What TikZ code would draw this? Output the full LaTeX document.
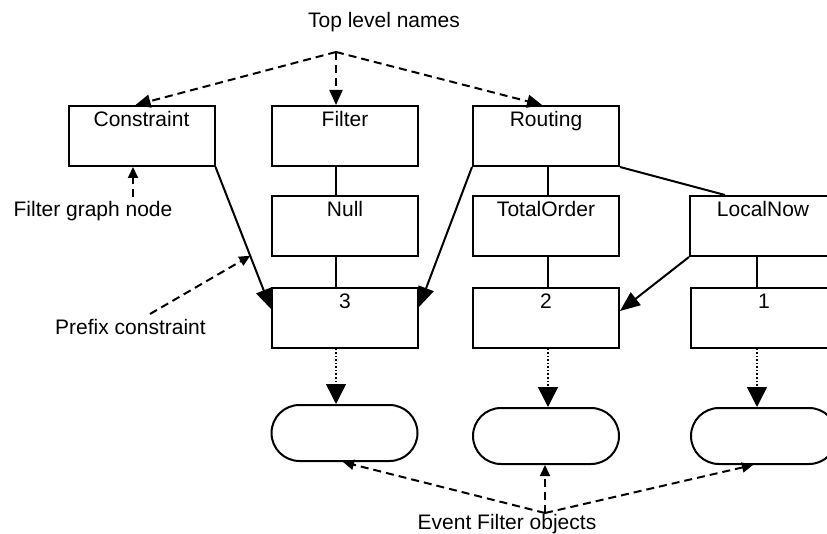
\documentclass[tikz,border=0pt]{standalone}
\usepackage{fontspec}
\setmainfont{Liberation Sans}
\usetikzlibrary{arrows.meta,calc}
\begin{document}
\begin{tikzpicture}[x=1pt,y=-1pt,
  every node/.style={font=\fontsize{21}{24}\selectfont},
  box/.style={draw,line width=2pt,minimum width=146pt,minimum height=60pt,inner sep=0pt},
  pill/.style={draw,line width=2pt,minimum width=146pt,minimum height=56pt,inner sep=0pt,rounded corners=28pt},
  txt/.style={inner sep=0pt,anchor=base},
  conn/.style={line width=2pt},
  solidarr/.style={conn,-{Triangle[length=20pt,width=16pt]}},
  dotarr/.style={line width=1.5pt,dash pattern=on 1.5pt off 2pt,-{Triangle[length=20pt,width=20pt]}},
  dasharr/.style={line width=2pt,dash pattern=on 8pt off 5pt,-{Triangle[length=15pt,width=13pt]}},
  smalldash/.style={line width=2pt,dash pattern=on 8pt off 5pt,-{Triangle[length=11pt,width=10pt]}},
  cap/.style={label={[txt,yshift=-21.5pt]north:#1}}
]
\clip (0,0) rectangle (827,534);
\fill[white] (0,0) rectangle (827,534);

% row 1
\node[box,cap=Constraint] (con) at (141.5,136) {};
\node[box,cap=Filter] (fil) at (345,136) {};
\node[box,cap=Routing] (rou) at (546,136) {};
% row 2
\node[box,cap=Null] (nul) at (345,226) {};
\node[box,cap=TotalOrder] (tot) at (546,226) {};
\node[box,cap=LocalNow] (loc) at (763,226) {};
% row 3
\node[box,cap=3] (b3) at (345,318) {};
\node[box,cap=2] (b2) at (546,318) {};
\node[box,cap=1] (b1) at (764,318) {};
% row 4
\node[pill] (e3) at (344.5,433) {};
\node[pill] (e2) at (546,436) {};
\node[pill] (e1) at (764,436) {};

% labels
\node[txt] (top) at (384,27.5) {Top level names};
\node[txt] (fgn) at (93,216.5) {Filter graph node};
\node[txt] (pre) at (130.5,334.5) {Prefix constraint};
\node[txt] (evt) at (507,529.5) {Event Filter objects};

\coordinate (hub) at (336,52);
\coordinate (hub2) at (545,513);
\coordinate (fgs) at (133,197);
\coordinate (pcs) at (150,314);

% top-level dashed arrows
\draw[dasharr] (hub) -- ($(con.north)+(-6,0)$);
\draw[dasharr] (hub) -- ($(fil.north)+(-9,0)$);
\draw[dasharr] (hub) -- ($(rou.north)+(-4,0)$);

% tree lines
\draw[conn] ($(fil.south)+(-9,0)$) -- ($(nul.north)+(-9,0)$);
\draw[conn] ($(nul.south)+(-9,0)$) -- ($(b3.north)+(-9,0)$);
\draw[conn] ($(rou.south)+(2,0)$) -- ($(tot.north)+(2,0)$);
\draw[conn] ($(tot.south)+(2,0)$) -- ($(b2.north)+(2,0)$);
\draw[conn] (rou.south east) -- ($(loc.north)+(-38,0)$);
\draw[conn] ($(loc.south)+(-6,0)$) -- ($(b1.north)+(-7,0)$);

% solid arrows
\coordinate (pct0) at ($(b3.north west)+(0,22)$);
\draw[solidarr] (con.south east) -- (pct0);
\draw[solidarr] (rou.south west) -- ($(b3.north east)+(0,20)$);
\draw[solidarr] (loc.south west) -- ($(b2.north east)+(0,24)$);

% dotted arrows
\draw[dotarr] ($(b3.south)+(-9,0)$) -- ($(e3.north)+(-8.5,0)$);
\draw[dotarr] ($(b2.south)+(2,0)$) -- ($(e2.north)+(2,0)$);
\draw[dotarr] ($(b1.south)+(-7,0)$) -- ($(e1.north)+(-7,0)$);

% annotation arrows
\draw[smalldash] (fgs) -- ($(con.south)+(-8.5,0)$);
\draw[smalldash] (pcs) -- ($(con.south east)!0.625!(pct0)$);
\draw[smalldash] (hub2) -- ($(e3.south)+(-1.5,0)$);
\draw[smalldash] (hub2) -- ($(e2.south)+(-1,0)$);
\draw[smalldash] (hub2) -- ($(e1.south)+(-11,0)$);
\end{tikzpicture}
\end{document}
